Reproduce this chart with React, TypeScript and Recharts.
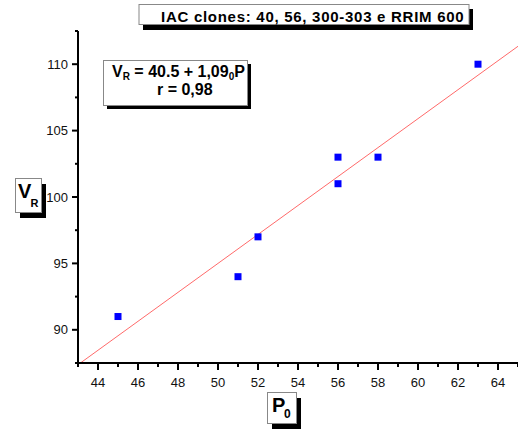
import React from 'react';
import { ScatterChart, Scatter, XAxis, YAxis, ReferenceLine } from 'recharts';

const p0Values = [45, 51, 52, 56, 56, 58, 63];
const vrValues = [91, 94, 97, 101, 103, 103, 110];
const xTicks = [43, 44, 45, 46, 47, 48, 49, 50, 51, 52, 53, 54, 55, 56, 57, 58, 59, 60, 61, 62, 63, 64, 65];
const yTicks = [87.5, 90, 92.5, 95, 97.5, 100, 102.5, 105, 107.5, 110, 112.5];
const xDomain = [43, 65];
const yDomain = [87.5, 112.5];
const fitIntercept = 40.5;
const fitSlope = 1.09;
const titleText = 'IAC clones: 40, 56, 300-303 e RRIM 600';

const data = p0Values.map((x, i) => ({ x, y: vrValues[i] }));

const fitStartX = Math.max(xDomain[0], (yDomain[0] - fitIntercept) / fitSlope);
const fitSegment = [
  { x: fitStartX, y: fitIntercept + fitSlope * fitStartX },
  { x: xDomain[1], y: fitIntercept + fitSlope * xDomain[1] },
];

const FONT = '"Liberation Sans", Arial, sans-serif';

const BottomTick = (props: any) => {
  const { x, y, payload } = props;
  const major = payload.value % 2 === 0;
  return (
    <g>
      <line x1={x} x2={x} y1={y} y2={y + (major ? 7 : 4)} stroke="#000" strokeWidth={2} />
      {major && (
        <text x={x} y={y + 24} textAnchor="middle" fontSize={13} fontFamily={FONT} fill="#111">
          {payload.value}
        </text>
      )}
    </g>
  );
};

const TopTick = (props: any) => {
  const { x, y, payload } = props;
  const major = payload.value % 2 === 0;
  return <line x1={x} x2={x} y1={y} y2={y + (major ? 5 : 3)} stroke="#000" strokeWidth={2} />;
};

const LeftTick = (props: any) => {
  const { x, y, payload } = props;
  const major = payload.value % 5 === 0;
  return (
    <g>
      <line x1={x - (major ? 6 : 3)} x2={x} y1={y} y2={y} stroke="#000" strokeWidth={2} />
      {major && (
        <text x={x - 10} y={y + 4.6} textAnchor="end" fontSize={13} fontFamily={FONT} fill="#111">
          {payload.value}
        </text>
      )}
    </g>
  );
};

const RightTick = (props: any) => {
  const { x, y, payload } = props;
  const major = payload.value % 5 === 0;
  return <line x1={x - (major ? 5 : 2)} x2={x} y1={y} y2={y} stroke="#000" strokeWidth={2} />;
};

const SquareShape = (props: any) => {
  const { cx, cy } = props;
  return <rect x={cx - 3.5} y={cy - 3.5} width={7} height={7} fill="#0000ff" />;
};

export default function App() {
  return (
    <div style={{ position: 'absolute', left: 0, top: 0, width: 518, height: 430, background: '#fff' }}>
      <ScatterChart width={518} height={430} margin={{ top: 31, right: 0, bottom: 0, left: 0 }}>
        <XAxis
          xAxisId="b"
          type="number"
          dataKey="x"
          domain={xDomain}
          ticks={xTicks}
          interval={0}
          orientation="bottom"
          height={67}
          tickSize={0}
          tickMargin={0}
          tickLine={false}
          tick={(p: any) => <BottomTick {...p} />}
          axisLine={{ stroke: '#000', strokeWidth: 2 }}
          allowDataOverflow
        />
        <XAxis
          xAxisId="t"
          type="number"
          domain={xDomain}
          ticks={xTicks}
          interval={0}
          orientation="top"
          height={0}
          tickSize={0}
          tickMargin={0}
          tickLine={false}
          tick={(p: any) => <TopTick {...p} />}
          axisLine={{ stroke: '#000', strokeWidth: 2 }}
          allowDataOverflow
        />
        <YAxis
          yAxisId="l"
          type="number"
          dataKey="y"
          domain={yDomain}
          ticks={yTicks}
          interval={0}
          orientation="left"
          width={78}
          tickSize={0}
          tickMargin={0}
          tickLine={false}
          tick={(p: any) => <LeftTick {...p} />}
          axisLine={{ stroke: '#000', strokeWidth: 2 }}
          allowDataOverflow
        />
        <YAxis
          yAxisId="r"
          type="number"
          domain={yDomain}
          ticks={yTicks}
          interval={0}
          orientation="right"
          width={0}
          tickSize={0}
          tickMargin={0}
          tickLine={false}
          tick={(p: any) => <RightTick {...p} />}
          axisLine={{ stroke: '#000', strokeWidth: 2 }}
          allowDataOverflow
        />
        <ReferenceLine
          xAxisId="b"
          yAxisId="l"
          segment={fitSegment}
          stroke="#ff6a6a"
          strokeWidth={1}
          ifOverflow="hidden"
        />
        <Scatter data={data} xAxisId="b" yAxisId="l" shape={(p: any) => <SquareShape {...p} />} isAnimationActive={false} />
      </ScatterChart>
      <svg
        width={518}
        height={430}
        style={{ position: 'absolute', left: 0, top: 0, pointerEvents: 'none' }}
        fontFamily={FONT}
      >
        {/* title */}
        <rect x={143} y={9} width={330} height={21} fill="#000" />
        <rect x={139} y={4.5} width={330} height={20} fill="#fff" stroke="#888" strokeWidth={1} />
        <text x={161} y={22} fontSize={15} fontWeight="bold" letterSpacing={0.72} fill="#000">
          {titleText}
        </text>
        {/* equation box */}
        <rect x={107} y={64} width={144} height={45} fill="#000" />
        <rect x={103.5} y={60.5} width={144} height={45} fill="#fff" stroke="#888" strokeWidth={1} />
        <text x={112} y={77} fontSize={16} fontWeight="bold" fill="#000">
          <tspan>V</tspan>
          <tspan fontSize={10} dy={3}>R</tspan>
          <tspan dy={-3}>{' = 40.5 + 1,09'}</tspan>
          <tspan fontSize={10} dy={3}>0</tspan>
          <tspan dy={-3}>P</tspan>
        </text>
        <text x={157} y={95} fontSize={16} fontWeight="bold" fill="#000">
          r = 0,98
        </text>
        {/* y label */}
        <rect x={20} y={184} width={26} height={34} fill="#000" />
        <rect x={15.5} y={178.5} width={26} height={34} fill="#fff" stroke="#888" strokeWidth={1} />
        <text x={18} y={198} fontSize={20} fontWeight="bold" fill="#000">
          <tspan>V</tspan>
          <tspan fontSize={11} x={30.5} y={207}>R</tspan>
        </text>
        {/* x label */}
        <rect x={272} y={398} width={29} height={31} fill="#000" />
        <rect x={267.5} y={392.5} width={29} height={31} fill="#fff" stroke="#888" strokeWidth={1} />
        <text x={272} y={412} fontSize={20} fontWeight="bold" fill="#000">
          <tspan>P</tspan>
          <tspan fontSize={12} x={284} y={418}>0</tspan>
        </text>
      </svg>
    </div>
  );
}
